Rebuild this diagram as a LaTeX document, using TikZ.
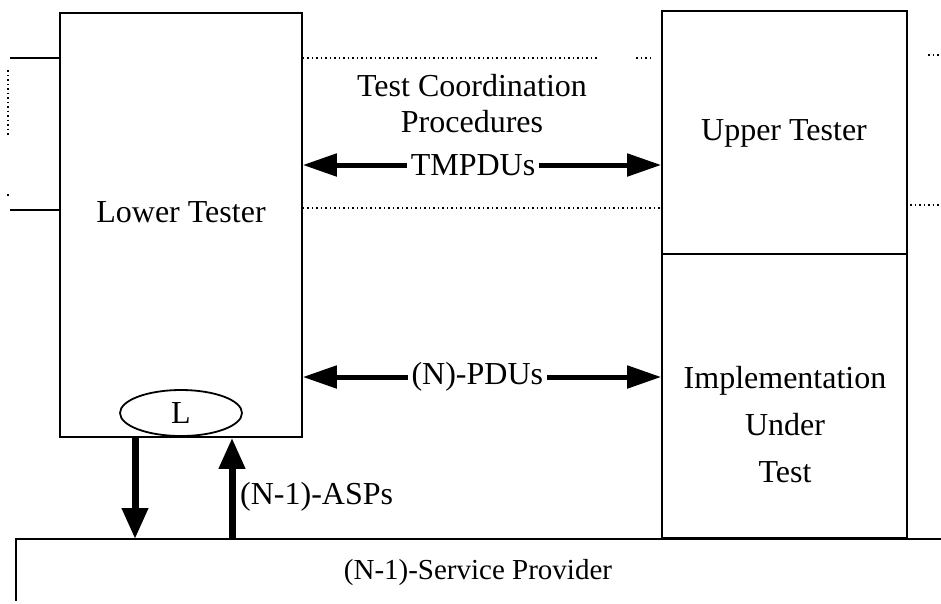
\documentclass[tikz,border=0pt]{standalone}
\usepackage{fontspec}
\setmainfont{Liberation Serif}
\usetikzlibrary{arrows.meta,shapes.geometric}

\begin{document}
\begin{tikzpicture}[x=1pt, y=-1pt,
    font=\fontsize{32}{47}\selectfont,
    box/.style={draw, line width=1.6pt, inner sep=0pt},
    label/.style={inner sep=0pt, align=center},
    hbig/.style={line width=5pt, {Triangle[length=34pt,width=22pt]}-{Triangle[length=34pt,width=22pt]}},
    vbig/.style={line width=7pt, -{Triangle[length=31pt,width=25pt]}},
    dots/.style={line width=1.2pt, dash pattern=on 1.5pt off 3pt}]
    \useasboundingbox (0,0) rectangle (941,603);

    % Testers and IUT
    \node[box, minimum width=242pt, minimum height=424pt] (lower) at (181,225) {};
    \node[box, minimum width=245pt, minimum height=243pt] (upper) at (784.5,132.5) {};
    \node[box, minimum width=245pt, minimum height=284pt] (iut) at (784.5,396) {};
    \node[label] (lowertxt) at (181,212) {Lower Tester};
    \node[label] (uppertxt) at (784,133) {Upper Tester};
    \node[label] (iuttxt) at (785,425) {Implementation\\Under\\Test};
    \node[draw, ellipse, line width=1.8pt, minimum width=122pt, minimum height=46pt, inner sep=0pt] (lpoint) at (181,413) {L};

    % Service provider
    \coordinate (prov) at (478,539);
    \draw[line width=1.6pt] (941,539) -- (16,539) -- (16,601);
    \node[label, font=\fontsize{29}{35}\selectfont] (provtxt) at (478,573) {(N-1)-Service Provider};

    % layer lines
    \draw[line width=1.4pt] (10,58) -- (lower.west |- 0,58);
    \draw[line width=1.4pt] (10,210) -- (lower.west |- 0,210);
    \draw[dots] (8,70) -- (8,136);
    \draw[dots] (8,194) -- (8,198);
    \draw[dots] (lower.east |- 0,58) -- (598,58);
    \draw[dots] (636,58) -- (650,58);
    \draw[dots] (lower.east |- 0,208) -- (upper.west |- 0,208);
    \draw[dots] (928,55) -- (941,55);
    \draw[dots] (910,205) -- (941,205);

    % Exchanges
    \node[label, font=\fontsize{32}{36}\selectfont] (tcp) at (472,104) {Test Coordination\\Procedures};
    \draw[hbig] (lower.east |- 0,165) -- (upper.west |- 0,165)
        node[pos=0.475, fill=white, inner xsep=4pt, inner ysep=0pt] (tmpdu) {TMPDUs};
    \draw[hbig] (lower.east |- 0,377) -- (iut.west |- 0,377)
        node[pos=0.487, fill=white, inner xsep=4pt, inner ysep=0pt] (npdu) {(N)-PDUs};
    \draw[vbig] ([xshift=-46pt]lower.south) -- ([xshift=-46pt]lower.south |- prov);
    \draw[vbig] ([xshift=51pt]lower.south |- prov) -- ([xshift=51pt]lower.south);
    \node[label, anchor=west] (asp) at (240,497) {(N-1)-ASPs};
\end{tikzpicture}
\end{document}
